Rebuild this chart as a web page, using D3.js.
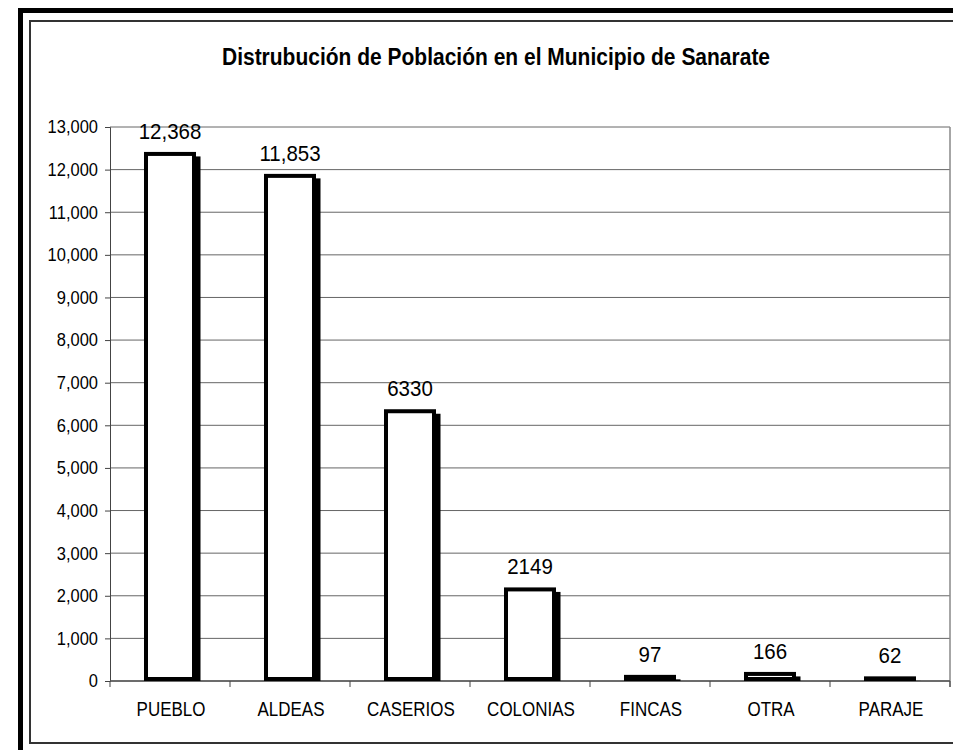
<!DOCTYPE html>
<html>
<head>
<meta charset="utf-8">
<script src="https://cdn.jsdelivr.net/npm/d3@7"></script>
<style>
  html, body { margin: 0; padding: 0; background: #fff; }
  svg { display: block; font-family: "Liberation Sans", Arial, sans-serif; }
</style>
</head>
<body>
<svg id="chart" width="953" height="750"></svg>
<script>
// data
const categories = ["PUEBLO", "ALDEAS", "CASERIOS", "COLONIAS", "FINCAS", "OTRA", "PARAJE"];
const population = [12368, 11853, 6330, 2149, 97, 166, 62];
const valueLabels = ["12,368", "11,853", "6330", "2149", "97", "166", "62"];
const yTicks = [0, 1000, 2000, 3000, 4000, 5000, 6000, 7000, 8000, 9000, 10000, 11000, 12000, 13000];
const title = "Distrubución de Población en el Municipio de Sanarate";

(function () {
  const svg = d3.select("#chart");
  const W = 953, H = 750;

  // plot box
  const plot = { left: 110, right: 950, top: 127, bottom: 681 };
  const stretch = 1.12; // text in the original looks a bit tall

  // frame: thick black edge + thin inner border (cropped on the right/bottom)
  svg.append("rect").attr("x", 18).attr("y", 8).attr("width", W).attr("height", H)
    .attr("fill", "#000");
  svg.append("rect").attr("x", 23).attr("y", 13).attr("width", W).attr("height", H)
    .attr("fill", "#fff");
  svg.append("rect").attr("x", 30).attr("y", 21).attr("width", 960).attr("height", 722)
    .attr("fill", "#fff").attr("stroke", "#333").attr("stroke-width", 2);

  // title
  svg.append("text")
    .attr("transform", `translate(496,65) scale(1,${stretch})`)
    .attr("text-anchor", "middle")
    .style("font-size", "21px")
    .style("font-weight", 700)
    .text(title);

  const x = d3.scaleBand()
    .domain(categories)
    .range([plot.left, plot.right])
    .paddingInner(0.6)
    .paddingOuter(0.3);

  const y = d3.scaleLinear()
    .domain([0, 13000])
    .range([plot.bottom, plot.top]);

  // gridlines
  svg.append("g").selectAll("line")
    .data(yTicks)
    .join("line")
    .attr("x1", plot.left).attr("x2", plot.right)
    .attr("y1", d => y(d)).attr("y2", d => y(d))
    .attr("stroke", "#666").attr("stroke-width", 1);

  // right border of plot area
  svg.append("line")
    .attr("x1", plot.right).attr("x2", plot.right)
    .attr("y1", plot.top).attr("y2", plot.bottom + 6)
    .attr("stroke", "#888").attr("stroke-width", 1.5);

  // y axis
  const yAxis = svg.append("g")
    .attr("transform", `translate(${plot.left},0)`)
    .call(d3.axisLeft(y).tickValues(yTicks).tickFormat(d3.format(",")).tickSize(5).tickPadding(7));
  yAxis.select(".domain").attr("stroke", "#444");
  yAxis.selectAll(".tick line").attr("stroke", "#444");
  yAxis.selectAll(".tick text")
    .attr("fill", "#000")
    .style("font-size", "16.5px")
    .style("font-family", "\"Liberation Sans\", Arial, sans-serif")
    .attr("transform", `scale(1,${stretch})`);

  // x axis line + ticks at category boundaries
  const gap = (x.step() - x.bandwidth()) / 2;
  const bounds = categories.map(c => x(c) - gap).concat([plot.right]);
  svg.append("line")
    .attr("x1", plot.left).attr("x2", plot.right)
    .attr("y1", plot.bottom).attr("y2", plot.bottom)
    .attr("stroke", "#555").attr("stroke-width", 1.5);
  svg.append("g").selectAll("line")
    .data(bounds)
    .join("line")
    .attr("x1", d => d).attr("x2", d => d)
    .attr("y1", plot.bottom).attr("y2", plot.bottom + 6)
    .attr("stroke", "#444");

  // bars
  const data = categories.map((c, i) => ({ c, v: population[i], label: valueLabels[i] }));
  const sw = 4, off = 4.5;
  const bars = svg.append("g");

  bars.selectAll("rect.shadow")
    .data(data)
    .join("rect")
    .attr("class", "shadow")
    .attr("x", d => x(d.c) - sw / 2 + off)
    .attr("y", d => y(d.v) - sw / 2 + off)
    .attr("width", x.bandwidth() + sw)
    .attr("height", d => Math.max(0, plot.bottom - (y(d.v) - sw / 2 + off)))
    .attr("fill", "#000");

  bars.selectAll("rect.bar")
    .data(data)
    .join("rect")
    .attr("class", "bar")
    .attr("x", d => x(d.c))
    .attr("y", d => y(d.v))
    .attr("width", x.bandwidth())
    .attr("height", d => Math.max(0.5, plot.bottom - sw / 2 - y(d.v)))
    .attr("fill", "#fff")
    .attr("stroke", "#000")
    .attr("stroke-width", sw);

  // value labels
  svg.append("g").selectAll("text")
    .data(data)
    .join("text")
    .attr("transform", d => `translate(${x(d.c) + x.bandwidth() / 2},${y(d.v) - 15}) scale(1,${stretch})`)
    .attr("text-anchor", "middle")
    .style("font-size", "20.5px")
    .text(d => d.label);

  // category labels
  svg.append("g").selectAll("text")
    .data(categories)
    .join("text")
    .attr("transform", d => `translate(${x(d) + x.bandwidth() / 2 + 1},716) scale(1,1.15)`)
    .attr("text-anchor", "middle")
    .style("font-size", "17px")
    .text(d => d);
})();
</script>
</body>
</html>
